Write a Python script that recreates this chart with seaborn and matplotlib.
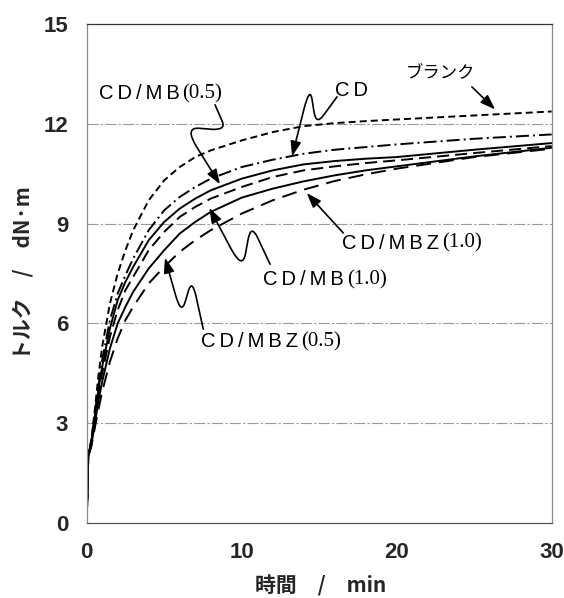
import numpy as np
import pandas as pd
import matplotlib
matplotlib.use("Agg")
import matplotlib.pyplot as plt
from matplotlib.path import Path
from matplotlib.patches import FancyArrowPatch
import seaborn as sns

# 加硫曲線（トルク vs 時間）の読み取り値
time_min = [0, 0.1, 0.3, 0.5, 0.75, 1, 1.5, 2, 2.5, 3, 4, 5, 6, 7, 8,
            10, 12, 14, 16, 18, 20, 25, 30]

blank = [0, 2.0, 2.5, 3.3, 4.4, 5.3, 6.6, 7.5, 8.2, 8.8, 9.7, 10.3, 10.7,
         11.0, 11.2, 11.5, 11.75, 11.93, 12.02, 12.08, 12.13, 12.25, 12.37]
cd = [0, 2.0, 2.5, 3.2, 4.1, 4.9, 6.1, 6.9, 7.45, 7.95, 8.8, 9.4, 9.8,
      10.1, 10.35, 10.7, 10.92, 11.1, 11.22, 11.3, 11.38, 11.55, 11.68]
cd_mb05 = [0, 2.0, 2.45, 3.1, 4.0, 4.7, 5.85, 6.7, 7.25, 7.7, 8.5, 9.05, 9.45,
           9.75, 10.0, 10.35, 10.6, 10.78, 10.88, 10.95, 11.0, 11.22, 11.42]
cd_mb10 = [0, 2.0, 2.4, 3.0, 3.85, 4.5, 5.6, 6.4, 7.0, 7.4, 8.2, 8.75, 9.2,
           9.5, 9.75, 10.1, 10.4, 10.6, 10.72, 10.82, 10.9, 11.12, 11.33]
cd_mbz05 = [0, 2.0, 2.35, 2.9, 3.65, 4.25, 5.25, 6.0, 6.5, 6.95, 7.65, 8.2, 8.7,
            9.05, 9.35, 9.78, 10.05, 10.27, 10.45, 10.6, 10.72, 11.02, 11.28]
cd_mbz10 = [0, 2.0, 2.3, 2.8, 3.4, 3.95, 4.85, 5.55, 6.1, 6.5, 7.2, 7.7, 8.15,
            8.5, 8.8, 9.3, 9.7, 10.02, 10.28, 10.48, 10.65, 11.0, 11.25]

series = {
    "blank": blank,
    "CD": cd,
    "CD/MB(0.5)": cd_mb05,
    "CD/MB(1.0)": cd_mb10,
    "CD/MBZ(0.5)": cd_mbz05,
    "CD/MBZ(1.0)": cd_mbz10,
}

dash_styles = {
    "blank": (3.6, 2.1),
    "CD": (6.7, 2.1, 1.0, 2.1),
    "CD/MB(0.5)": "",
    "CD/MB(1.0)": (6.2, 3.1),
    "CD/MBZ(0.5)": "",
    "CD/MBZ(1.0)": (7.7, 4.1),
}

frames = []
for name, vals in series.items():
    frames.append(pd.DataFrame({"time": time_min, "torque": vals, "sample": name}))
df = pd.concat(frames, ignore_index=True)

# ラベルと矢印（データ座標）
ts = "\u2009"
annotations = [
    {"parts": [("ブランク", "cjk")], "pos": (20.6, 13.53),
     "path": [(24.85, 13.11), (26.35, 12.43)]},
    {"parts": [(ts.join("CD"), "sans")], "pos": (16.0, 12.99),
     "path": [(16.15, 12.81), (14.8, 11.95), (14.4, 13.15), (13.25, 11.02)]},
    {"parts": [(ts.join("CD/MB"), "sans"), ("(0.5)", "serif")], "pos": (0.8, 12.9),
     "path": [(8.28, 12.57), (9.0, 11.8), (6.3, 11.9), (8.6, 10.18)]},
    {"parts": [(ts.join("CD/MB"), "sans"), ("(1.0)", "serif")], "pos": (11.4, 7.31),
     "path": [(11.83, 7.78), (10.6, 9.0), (10.05, 7.6), (7.91, 9.47)]},
    {"parts": [(ts.join("CD/MBZ"), "sans"), ("(1.0)", "serif")], "pos": (16.5, 8.41),
     "path": [(16.55, 8.72), (14.19, 9.92)]},
    {"parts": [(ts.join("CD/MBZ"), "sans"), ("(0.5)", "serif")], "pos": (7.4, 5.45),
     "path": [(7.52, 5.83), (6.8, 7.35), (6.1, 6.25), (5.05, 7.97)]},
]

fonts = {
    "sans": dict(family=["Liberation Sans", "DejaVu Sans"], size=14.5),
    "serif": dict(family=["Liberation Serif", "DejaVu Serif"], size=15),
    "cjk": dict(family=["Noto Sans CJK JP", "DejaVu Sans"], size=12.5),
}


def rounded_path(pts, r=0.35):
    pts = [np.array(p, dtype=float) for p in pts]
    verts = [pts[0]]
    codes = [Path.MOVETO]
    for i in range(1, len(pts) - 1):
        a = pts[i] - r * (pts[i] - pts[i - 1])
        b = pts[i] + r * (pts[i + 1] - pts[i])
        verts += [a, pts[i], b]
        codes += [Path.LINETO, Path.CURVE3, Path.CURVE3]
    verts.append(pts[-1])
    codes.append(Path.LINETO)
    return Path(verts, codes)


sns.set_style("white")
plt.rcParams["font.family"] = ["Liberation Sans", "DejaVu Sans"]

fig = plt.figure(figsize=(5.64, 5.98), dpi=100)
ax = fig.add_axes([0.1537, 0.1254, 0.8245, 0.8345])

sns.lineplot(data=df, x="time", y="torque", style="sample", dashes=dash_styles,
             color="black", linewidth=1.4, legend=False, errorbar=None, ax=ax,
             estimator=None, sort=False)

ax.set_xlim(0, 30)
ax.set_ylim(0, 15)
ax.set_xticks([0, 10, 20, 30])
ax.set_xticks([5, 15, 25], minor=True)
ax.set_yticks([0, 3, 6, 9, 12, 15])
ax.set_yticks([1.5, 4.5, 7.5, 10.5, 13.5], minor=True)

for y in [3, 6, 9, 12]:
    ax.axhline(y, color="#9a9a9a", lw=0.8, ls=(0, (10, 2, 2, 2)), zorder=0)

ax.tick_params(axis="y", which="major", direction="out", length=4.3, width=0.8,
               pad=9, labelsize=16, color="#555555")
ax.tick_params(axis="y", which="minor", direction="in", length=2.5, width=0.6,
               color="#777777")
ax.tick_params(axis="x", which="major", direction="inout", length=10, width=0.8,
               pad=8.5, labelsize=16, color="#555555")
ax.tick_params(axis="x", which="minor", direction="in", length=3.6, width=0.6,
               color="#777777")
for lab in ax.get_xticklabels() + ax.get_yticklabels():
    lab.set_fontweight("bold")

for side, col in [("top", "#333333"), ("bottom", "#555555"),
                  ("left", "#8a8a8a"), ("right", "#8a8a8a")]:
    ax.spines[side].set_color(col)
    ax.spines[side].set_linewidth(0.9)

cjk_bold = dict(family=["Noto Sans CJK JP", "DejaVu Sans"], fontweight="bold", fontsize=15)
ax.set_xlabel("時間　/　min", **cjk_bold)
ax.set_ylabel("トルク　/　dN·m", **cjk_bold)
ax.xaxis.set_label_coords(0.502, -0.126)
ax.xaxis.label.set_va("center")
ax.yaxis.set_label_coords(-0.138, 0.5)
ax.yaxis.label.set_va("center")

for ann in annotations:
    prev = None
    for text, kind in ann["parts"]:
        if prev is None:
            prev = ax.text(ann["pos"][0], ann["pos"][1], text, ha="left",
                           va="center", color="black", **fonts[kind])
        else:
            prev = ax.annotate(text, xy=(1.0, 0.5), xycoords=prev,
                               xytext=(2, 0), textcoords="offset points",
                               ha="left", va="center", color="black", **fonts[kind])
    arrow = FancyArrowPatch(path=rounded_path(ann["path"]),
                            arrowstyle="-|>,head_length=0.9,head_width=0.32",
                            mutation_scale=10, lw=1.2, color="black")
    ax.add_patch(arrow)

fig.savefig("out.png", dpi=100)
